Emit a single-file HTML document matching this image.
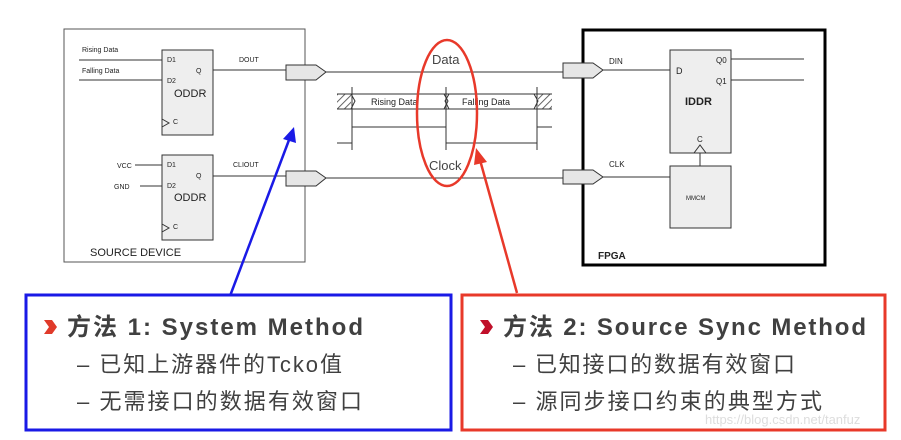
<!DOCTYPE html>
<html><head><meta charset="utf-8"><style>
html,body{margin:0;padding:0;background:#fff;width:901px;height:440px;overflow:hidden}
</style></head><body>
<svg width="901" height="440" viewBox="0 0 901 440" xmlns="http://www.w3.org/2000/svg" font-family="Liberation Sans, Noto Sans CJK SC, sans-serif">
<defs>
<pattern id="h" width="5" height="5" patternUnits="userSpaceOnUse" patternTransform="rotate(45)"><rect width="5" height="5" fill="#fff"/><line x1="0" y1="0" x2="0" y2="5" stroke="#666" stroke-width="2"/></pattern>
</defs>
<g stroke="#333" fill="none" stroke-width="1">
<rect x="64" y="29" width="241" height="233" stroke="#555"/>
<rect x="162" y="50" width="51" height="85" fill="#eee"/>
<rect x="162" y="155" width="51" height="85" fill="#eee"/>
<line x1="79" y1="60" x2="162" y2="60"/>
<line x1="79" y1="80" x2="162" y2="80"/>
<line x1="135" y1="165" x2="162" y2="165"/>
<line x1="140" y1="186" x2="162" y2="186"/>
<line x1="213" y1="70" x2="286" y2="70"/>
<line x1="213" y1="176" x2="286" y2="176"/>
<path d="M162 119 L169 123 L162 127"/>
<path d="M162 224 L169 228 L162 232"/>
<path d="M286 65 H316 L326 72 L316 80 H286 Z" fill="#e6e6e6"/>
<path d="M286 171 H316 L326 178 L316 186 H286 Z" fill="#e6e6e6"/>
<line x1="326" y1="72" x2="563" y2="72"/>
<line x1="326" y1="178" x2="563" y2="178"/>
<rect x="337" y="94" width="14" height="15" fill="url(#h)" stroke="none"/>
<rect x="538" y="94" width="14" height="15" fill="url(#h)" stroke="none"/>
<path d="M351 94 H444 L448 101 L444 109 H351 L355 101 Z"/>
<path d="M449 94 H534 L538 101 L534 109 H449 L445 101 Z"/>
<line x1="337" y1="94" x2="552" y2="94"/>
<line x1="337" y1="109" x2="552" y2="109"/>
<line x1="352" y1="87" x2="352" y2="150"/>
<line x1="446" y1="87" x2="446" y2="150"/>
<line x1="537" y1="87" x2="537" y2="150"/>
<line x1="352" y1="127" x2="446" y2="127"/>
<line x1="537" y1="127" x2="552" y2="127"/>
<line x1="337" y1="143" x2="352" y2="143"/>
<line x1="446" y1="143" x2="537" y2="143"/>
<rect x="583" y="30" width="242" height="235" stroke="#000" stroke-width="3"/>
<path d="M563 63 H593 L603 70 L593 78 H563 Z" fill="#e6e6e6"/>
<path d="M563 170 H593 L603 177 L593 184 H563 Z" fill="#e6e6e6"/>
<line x1="603" y1="70" x2="670" y2="70"/>
<line x1="603" y1="177" x2="670" y2="177"/>
<rect x="670" y="50" width="61" height="103" fill="#eee"/>
<rect x="670" y="166" width="61" height="62" fill="#eee"/>
<line x1="731" y1="59" x2="804" y2="59"/>
<line x1="731" y1="80" x2="804" y2="80"/>
<path d="M694 153 L700 145 L706 153"/>
<line x1="700" y1="153" x2="700" y2="166"/>
</g>
<g fill="#222" font-size="7">
<text x="82" y="52">Rising Data</text>
<text x="82" y="73">Falling Data</text>
<text x="167" y="62">D1</text><text x="167" y="83">D2</text><text x="196" y="73">Q</text>
<text x="174" y="97" font-size="11">ODDR</text><text x="173" y="124">C</text>
<text x="239" y="62">DOUT</text>
<text x="117" y="168">VCC</text><text x="114" y="189">GND</text>
<text x="167" y="167">D1</text><text x="167" y="188">D2</text><text x="196" y="178">Q</text>
<text x="174" y="201" font-size="11">ODDR</text><text x="173" y="229">C</text>
<text x="233" y="167">CLIOUT</text>
<text x="90" y="256" font-size="11">SOURCE DEVICE</text>
<text x="371" y="105" font-size="9">Rising Data</text>
<text x="462" y="105" font-size="9">Falling Data</text>
<text x="432" y="64" font-size="13" fill="#444">Data</text>
<text x="429" y="170" font-size="13" fill="#444">Clock</text>
<text x="609" y="64" font-size="8">DIN</text>
<text x="609" y="167" font-size="8">CLK</text>
<text x="676" y="74" font-size="9">D</text>
<text x="716" y="63" font-size="8">Q0</text><text x="716" y="84" font-size="8">Q1</text>
<text x="685" y="105" font-size="11" font-weight="bold">IDDR</text>
<text x="697" y="142" font-size="8">C</text>
<text x="686" y="200" font-size="6">MMCM</text>
<text x="598" y="259" font-size="10" font-weight="bold">FPGA</text>
</g>
<ellipse cx="447" cy="113" rx="30" ry="73" fill="none" stroke="#e8392a" stroke-width="2.5"/>
<line x1="517" y1="293" x2="480" y2="160" stroke="#e8392a" stroke-width="2.5"/>
<path d="M476 148 L487 162 L474 165 Z" fill="#e8392a"/>
<line x1="230" y1="296" x2="289" y2="140" stroke="#1a1ae6" stroke-width="2.5"/>
<path d="M294 127 L296 143 L283 139 Z" fill="#1a1ae6"/>
<rect x="26" y="295" width="425" height="135" fill="none" stroke="#1a1ae6" stroke-width="3"/>
<rect x="462" y="295" width="423" height="135" fill="none" stroke="#e8392a" stroke-width="3"/>
<g fill="#404040">
<path d="M44 320 L52 320 L57 327 L52 334 L44 334 L49 327 Z" fill="#e03a2a"/>
<text x="67" y="335" font-size="24" font-weight="bold" textLength="296" lengthAdjust="spacing">方法 1:  System Method</text>
<text x="77" y="372" font-size="22" textLength="265" lengthAdjust="spacing">–  已知上游器件的Tcko值</text>
<text x="77" y="409" font-size="22" textLength="285" lengthAdjust="spacing">–  无需接口的数据有效窗口</text>
<path d="M480 320 L488 320 L493 327 L488 334 L480 334 L485 327 Z" fill="#c0102a"/>
<text x="503" y="335" font-size="24" font-weight="bold" textLength="363" lengthAdjust="spacing">方法 2:  Source Sync Method</text>
<text x="513" y="372" font-size="22" textLength="282" lengthAdjust="spacing">–  已知接口的数据有效窗口</text>
<text x="513" y="409" font-size="22" textLength="309" lengthAdjust="spacing">–  源同步接口约束的典型方式</text>
</g>
<text x="705" y="424" font-size="13" fill="#ddd">https://blog.csdn.net/tanfuz</text>
</svg>
</body></html>
